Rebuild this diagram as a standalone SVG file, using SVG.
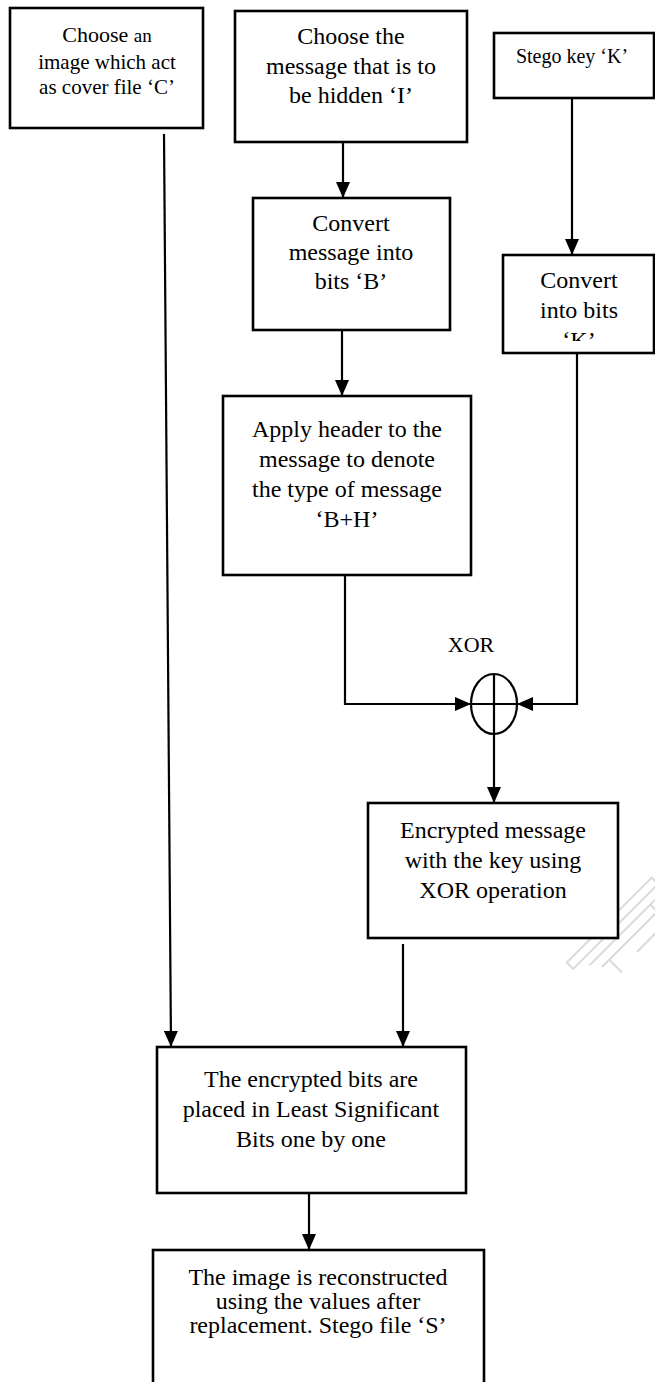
<svg xmlns="http://www.w3.org/2000/svg" width="655" height="1382" viewBox="0 0 655 1382">
  <style>
    .box { fill: #ffffff; stroke: #000000; stroke-width: 2.6; }
    .t { font-family: "Liberation Serif", "Times New Roman", serif; font-size: 24px; fill: #000000; text-anchor: middle; }
    .wire { fill: none; stroke: #000000; stroke-width: 2.2; }
    .mark { fill: none; stroke: #dadada; stroke-width: 2; }
  </style>
  <defs>
    <marker id="arrow" markerUnits="userSpaceOnUse" markerWidth="16" markerHeight="14" refX="16" refY="7" orient="auto">
      <path d="M0,0 L16,7 L0,14 z" fill="#000000"/>
    </marker>
    <clipPath id="clipK">
      <rect x="503" y="255" width="152" height="86"/>
    </clipPath>
  </defs>

  <rect width="655" height="1382" fill="#ffffff"/>

  <!-- faint publisher mark, tilted -->
  <g id="watermark" transform="translate(622,930) rotate(-45)">
    <rect class="mark" x="-62" y="-16" width="120" height="9"/>
    <path class="mark" d="M-48,2 L48,2 M-40,12 L55,12 M38,2 L38,26 L-5,26 M-30,12 L-30,30"/>
    <circle cx="50" cy="30" r="5" fill="#dadada"/>
  </g>

  <!-- connectors -->
  <g id="connectors">
    <line class="wire" x1="164" y1="134" x2="171" y2="1047" marker-end="url(#arrow)"/>
    <line class="wire" x1="343" y1="142" x2="343" y2="198" marker-end="url(#arrow)"/>
    <line class="wire" x1="572" y1="98" x2="572" y2="255" marker-end="url(#arrow)"/>
    <line class="wire" x1="342" y1="330" x2="342" y2="396" marker-end="url(#arrow)"/>
    <polyline class="wire" points="345,575 345,704 471,704" marker-end="url(#arrow)"/>
    <polyline class="wire" points="577,353 577,704 517,704" marker-end="url(#arrow)"/>
    <line class="wire" x1="494" y1="734" x2="494" y2="803" marker-end="url(#arrow)"/>
    <line class="wire" x1="403" y1="944" x2="403" y2="1047" marker-end="url(#arrow)"/>
    <line class="wire" x1="309" y1="1193" x2="309" y2="1250" marker-end="url(#arrow)"/>
  </g>

  <g id="cover">
    <rect class="box" x="10" y="8" width="193" height="120"/>
    <text class="t" x="107" y="42"><tspan font-size="22">Choose </tspan><tspan font-size="19">an</tspan></text>
    <text class="t" x="107" y="69" style="font-size:21px">image which act</text>
    <text class="t" x="107" y="94" style="font-size:21px">as cover file ‘C’</text>
  </g>

  <g id="message">
    <rect class="box" x="235" y="11" width="232" height="131"/>
    <text class="t" x="351" y="44">Choose the</text>
    <text class="t" x="351" y="74">message that is to</text>
    <text class="t" x="351" y="103">be hidden ‘I’</text>
  </g>

  <g id="key">
    <rect class="box" x="494" y="33" width="160" height="65"/>
    <text class="t" x="572" y="63" style="font-size:20px">Stego key ‘K’</text>
  </g>

  <g id="bitsB">
    <rect class="box" x="253" y="198" width="197" height="132"/>
    <text class="t" x="351" y="231">Convert</text>
    <text class="t" x="351" y="260">message into</text>
    <text class="t" x="351" y="289">bits ‘B’</text>
  </g>

  <g id="bitsK">
    <rect class="box" x="503" y="255" width="151" height="98"/>
    <g clip-path="url(#clipK)">
      <text class="t" x="579" y="288">Convert</text>
      <text class="t" x="579" y="318">into bits</text>
      <text class="t" x="579" y="348">‘K’</text>
    </g>
  </g>

  <g id="header">
    <rect class="box" x="223" y="396" width="248" height="179"/>
    <text class="t" x="347" y="437">Apply header to the</text>
    <text class="t" x="347" y="467">message to denote</text>
    <text class="t" x="347" y="497">the type of message</text>
    <text class="t" x="347" y="527">‘B+H’</text>
  </g>

  <g id="xor">
    <text class="t" x="471" y="652" style="font-size:22px">XOR</text>
    <ellipse cx="494" cy="704" rx="23" ry="30" fill="#ffffff" stroke="#000000" stroke-width="2.2"/>
    <line class="wire" x1="471" y1="704" x2="517" y2="704"/>
    <line class="wire" x1="494" y1="674" x2="494" y2="734"/>
  </g>

  <g id="encrypted">
    <rect class="box" x="368" y="803" width="250" height="135"/>
    <text class="t" x="493" y="838">Encrypted message</text>
    <text class="t" x="493" y="868">with the key using</text>
    <text class="t" x="493" y="898">XOR operation</text>
  </g>

  <g id="embed">
    <rect class="box" x="157" y="1047" width="309" height="146"/>
    <text class="t" x="311" y="1087">The encrypted bits are</text>
    <text class="t" x="311" y="1117">placed in Least Significant</text>
    <text class="t" x="311" y="1147">Bits one by one</text>
  </g>

  <g id="stego">
    <rect class="box" x="153" y="1250" width="331" height="150"/>
    <text class="t" x="318" y="1285">The image is reconstructed</text>
    <text class="t" x="318" y="1309">using the values after</text>
    <text class="t" x="318" y="1333">replacement. Stego file ‘S’</text>
  </g>
</svg>
